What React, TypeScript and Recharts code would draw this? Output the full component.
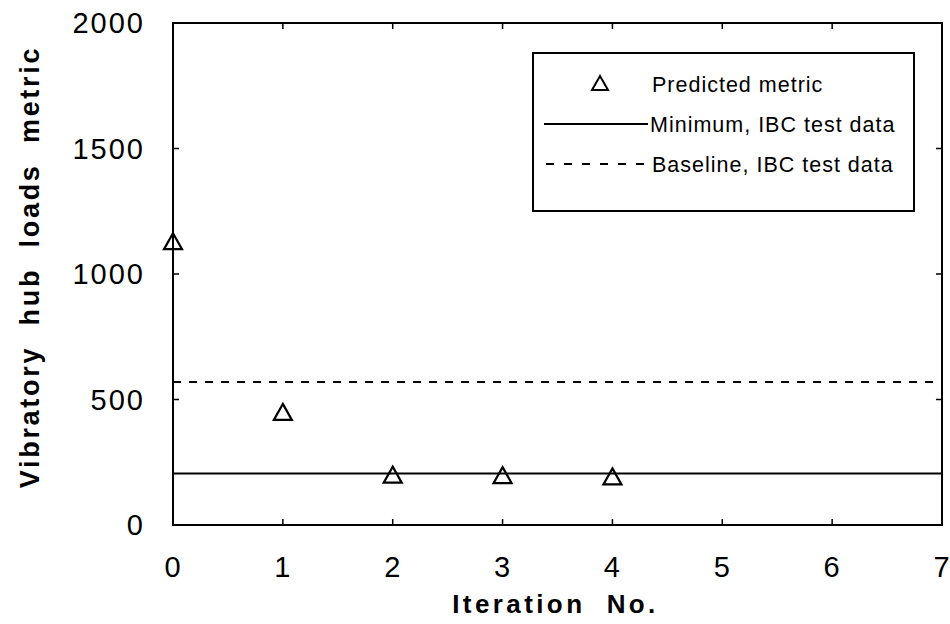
import React from 'react';
import { ComposedChart, Scatter, XAxis, YAxis, ReferenceLine, ReferenceArea, Label } from 'recharts';

const iterations = [0, 1, 2, 3, 4];
const predictedMetric = [1120, 440, 190, 188, 183];
const minimumIBC = 205;
const baselineIBC = 570;
const xTicks = [0, 1, 2, 3, 4, 5, 6, 7];
const yTicks = [0, 500, 1000, 1500, 2000];
const seriesNames = ['Predicted metric', 'Minimum, IBC test data', 'Baseline, IBC test data'];
const xLabel = 'Iteration  No.';
const yLabel = 'Vibratory  hub  loads  metric';

const data = iterations.map((x, i) => ({ x, y: predictedMetric[i] }));

const FONT = '"Liberation Sans", Arial, Helvetica, sans-serif';
const X_MIN = 0;
const X_MAX = 7;
const Y_MIN = 0;
const Y_MAX = 2000;
// inward tick lengths in data units (about 6 px)
const X_TICK_LEN = 0.055;
const Y_TICK_LEN = 24;

const Triangle = (props: any) => {
  const { cx, cy } = props;
  const w = 18;
  const h = 16;
  const d = `M${cx},${cy - (h * 2) / 3} L${cx + w / 2},${cy + h / 3} L${cx - w / 2},${cy + h / 3} Z`;
  return <path d={d} fill="none" stroke="#000" strokeWidth={2.2} strokeLinejoin="miter" />;
};

const BottomTick = (props: any) => {
  const { x, y, payload } = props;
  return (
    <text x={x} y={y} dy="0.72em" textAnchor="middle" fontFamily={FONT} fontSize={29} letterSpacing={1} fill="#000">
      {payload.value}
    </text>
  );
};

const LeftTick = (props: any) => {
  const { x, y, payload } = props;
  return (
    <text x={x} y={y} dy="0.36em" textAnchor="end" fontFamily={FONT} fontSize={29} letterSpacing={2} fill="#000">
      {payload.value}
    </text>
  );
};

const LegendBox = () => (
  <div
    style={{
      position: 'absolute',
      left: 532,
      top: 52,
      width: 379,
      height: 156,
      border: '2px solid #000',
      background: '#fff',
    }}
  >
    <svg width={379} height={156} style={{ position: 'absolute', left: 0, top: 0 }}>
      <path d="M66,22 L74,36 L58,36 Z" fill="none" stroke="#000" strokeWidth={2} />
      <line x1={10} x2={114} y1={70} y2={70} stroke="#000" strokeWidth={2} />
      <line x1={12} x2={114} y1={110} y2={110} stroke="#000" strokeWidth={2} strokeDasharray="8 10" />
      <text x={118} y={38} fontFamily={FONT} fontSize={21.5} letterSpacing={1} fill="#000">{seriesNames[0]}</text>
      <text x={116} y={78} fontFamily={FONT} fontSize={21.5} letterSpacing={1} fill="#000">{seriesNames[1]}</text>
      <text x={118} y={118} fontFamily={FONT} fontSize={21.5} letterSpacing={1} fill="#000">{seriesNames[2]}</text>
    </svg>
  </div>
);

export default function App() {
  return (
    <div style={{ position: 'absolute', left: 0, top: 0, width: 950, height: 624, background: '#fff' }}>
      <ComposedChart
        width={950}
        height={624}
        data={data}
        margin={{ top: 23, right: 8, bottom: 0, left: 0 }}
      >
        <ReferenceArea x1={X_MIN} x2={X_MAX} y1={Y_MIN} y2={Y_MAX} fill="none" stroke="#000" strokeWidth={2} ifOverflow="visible" />
        <XAxis
          type="number"
          dataKey="x"
          domain={[X_MIN, X_MAX]}
          ticks={xTicks}
          height={99}
          tickLine={false}
          tickSize={0}
          tickMargin={31}
          stroke="#000"
          strokeWidth={2}
          tick={BottomTick}
          interval={0}
        >
          <Label
            content={(p: any) => {
              const vb = p.viewBox;
              return (
                <text
                  x={vb.x + vb.width / 2 - 2}
                  y={613}
                  textAnchor="middle"
                  fontFamily={FONT}
                  fontWeight="bold"
                  fontSize={26}
                  letterSpacing={3.4}
                  fill="#000"
                  style={{ whiteSpace: 'pre' }}
                >
                  {xLabel}
                </text>
              );
            }}
          />
        </XAxis>
        <YAxis
          type="number"
          domain={[Y_MIN, Y_MAX]}
          ticks={yTicks}
          width={173}
          tickLine={false}
          tickSize={0}
          tickMargin={28}
          stroke="#000"
          strokeWidth={2}
          tick={LeftTick}
          interval={0}
        >
          <Label
            content={() => (
              <text
                x={30}
                y={267}
                transform="rotate(-90 30 267)"
                textAnchor="middle"
                dominantBaseline="central"
                fontFamily={FONT}
                fontWeight="bold"
                fontSize={27}
                letterSpacing={2.7}
                fill="#000"
                style={{ whiteSpace: 'pre' }}
              >
                {yLabel}
              </text>
            )}
          />
        </YAxis>
        {xTicks.map((t) => (
          <ReferenceLine
            key={`xb${t}`}
            segment={[{ x: t, y: Y_MIN }, { x: t, y: Y_MIN + Y_TICK_LEN }]}
            stroke="#000"
            strokeWidth={1.5}
            ifOverflow="visible"
          />
        ))}
        {xTicks.map((t) => (
          <ReferenceLine
            key={`xt${t}`}
            segment={[{ x: t, y: Y_MAX }, { x: t, y: Y_MAX - Y_TICK_LEN }]}
            stroke="#000"
            strokeWidth={1.5}
            ifOverflow="visible"
          />
        ))}
        {yTicks.map((t) => (
          <ReferenceLine
            key={`yl${t}`}
            segment={[{ x: X_MIN, y: t }, { x: X_MIN + X_TICK_LEN, y: t }]}
            stroke="#000"
            strokeWidth={1.5}
            ifOverflow="visible"
          />
        ))}
        {yTicks.map((t) => (
          <ReferenceLine
            key={`yr${t}`}
            segment={[{ x: X_MAX, y: t }, { x: X_MAX - X_TICK_LEN, y: t }]}
            stroke="#000"
            strokeWidth={1.5}
            ifOverflow="visible"
          />
        ))}
        <ReferenceLine y={baselineIBC} stroke="#000" strokeWidth={2} strokeDasharray="8 8" />
        <ReferenceLine y={minimumIBC} stroke="#000" strokeWidth={2} />
        <Scatter
          name={seriesNames[0]}
          data={data}
          dataKey="y"
          shape={Triangle}
          isAnimationActive={false}
        />
      </ComposedChart>
      <LegendBox />
    </div>
  );
}
